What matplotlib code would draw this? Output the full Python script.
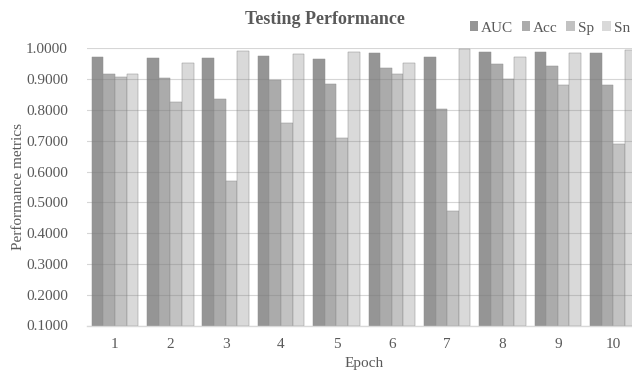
import matplotlib
matplotlib.use("Agg")
import matplotlib.pyplot as plt
import numpy as np

# Per-epoch test metrics
epochs = ["1", "2", "3", "4", "5", "6", "7", "8", "9", "10"]
auc = [0.9727, 0.9685, 0.9685, 0.9760, 0.9650, 0.9840, 0.9730, 0.9870, 0.9870, 0.9840]
acc = [0.9166, 0.9046, 0.8344, 0.8970, 0.8830, 0.9370, 0.8020, 0.9490, 0.9440, 0.8800]
sp = [0.9080, 0.8267, 0.5690, 0.7565, 0.7090, 0.9166, 0.4730, 0.9000, 0.8800, 0.6890]
sn = [0.9166, 0.9510, 0.9910, 0.9825, 0.9890, 0.9510, 0.9970, 0.9730, 0.9840, 0.9950]

series = [("AUC", auc, "#959595"), ("Acc", acc, "#ababab"),
          ("Sp", sp, "#c2c2c2"), ("Sn", sn, "#d9d9d9")]

plt.rcParams["font.family"] = ["Liberation Serif", "DejaVu Serif"]
text_color = "#595959"

fig = plt.figure(figsize=(6.32, 3.75), dpi=100)
ax = fig.add_axes([0.1381, 0.132, 0.876, 0.7392])

x = np.arange(len(epochs))
width = 0.21
base = 0.1
for i, (name, vals, color) in enumerate(series):
    pos = x + (i - 1.5) * width
    heights = np.array(vals) - base
    ax.bar(pos, heights, width=width, bottom=base, color=color,
           edgecolor="#8f8f8f", linewidth=0.35, label=name, zorder=2)

ax.set_xlim(-0.5, len(epochs) - 0.5)
ax.set_ylim(0.1, 1.0)
ax.set_yticks(np.arange(0.1, 1.0001, 0.1))
ax.set_yticklabels([f"{v:.4f}" for v in np.arange(0.1, 1.0001, 0.1)])
ax.set_xticks(x)
ax.set_xticklabels(epochs)

ax.yaxis.grid(True, color="#7a7a7a", alpha=0.3, linewidth=0.8, zorder=3)
ax.set_axisbelow(False)
for s in ["top", "right", "left"]:
    ax.spines[s].set_visible(False)
ax.spines["bottom"].set_color("#d9d9d9")
ax.spines["bottom"].set_linewidth(1.0)
ax.tick_params(axis="both", length=0, colors=text_color, labelsize=11)
ax.tick_params(axis="y", pad=14)
ax.tick_params(axis="x", pad=9)

ax.set_xlabel("Epoch", fontsize=11, color=text_color, labelpad=4)
ax.set_ylabel("Performance metrics", fontsize=11, color=text_color, labelpad=1)

fig.text(325 / 632, 1 - 20 / 375, "Testing Performance", ha="center", va="center",
         fontsize=13, fontweight="bold", color=text_color)

leg = fig.legend(loc="center right", bbox_to_anchor=(630 / 632, 1 - 28 / 375),
                 ncol=4, frameon=False, fontsize=11, handlelength=0.55,
                 handleheight=0.55, handletextpad=0.2, columnspacing=0.55,
                 borderaxespad=0, borderpad=0)
for t in leg.get_texts():
    t.set_color(text_color)
for h in leg.legend_handles:
    h.set_linewidth(0)

fig.savefig("out.png", dpi=100)
